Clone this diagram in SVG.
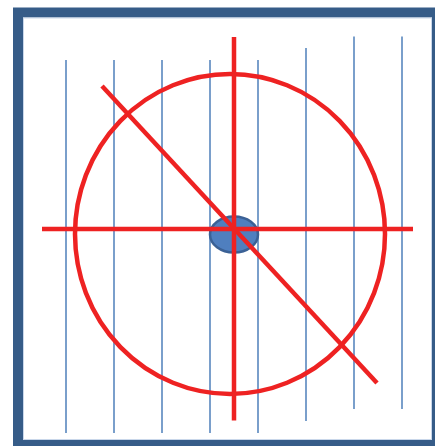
<svg xmlns="http://www.w3.org/2000/svg" width="435" height="446" viewBox="0 0 435 446">
  <style>
    .grid line { stroke: #7a9fcb; stroke-width: 2; }
    .red { stroke: #ee2222; stroke-width: 4.5; fill: none; }
  </style>
  <rect x="0" y="0" width="435" height="446" fill="#ffffff"/>
  <g id="frame">
    <rect x="18" y="12.5" width="419" height="432.5" fill="none" stroke="#365c88" stroke-width="10"/>
    <rect x="23.5" y="18" width="408" height="421.5" fill="none" stroke="#c9d7ea" stroke-width="1"/>
  </g>
  <g id="grid" class="grid">
    <line x1="66" y1="60" x2="66" y2="433"/>
    <line x1="114" y1="60" x2="114" y2="433"/>
    <line x1="162" y1="60" x2="162" y2="433"/>
    <line x1="210" y1="60" x2="210" y2="433"/>
    <line x1="258" y1="60" x2="258" y2="433"/>
    <line x1="306" y1="48" x2="306" y2="421"/>
    <line x1="354" y1="36.5" x2="354" y2="409"/>
    <line x1="402" y1="36.5" x2="402" y2="409"/>
  </g>
  <g id="hub">
    <ellipse cx="234" cy="234.5" rx="24" ry="18" fill="#4f7fbf" stroke="#3b6195" stroke-width="2.5"/>
  </g>
  <g id="connectors">
    <ellipse class="red" cx="230" cy="234" rx="155" ry="160"/>
    <line class="red" x1="42" y1="229" x2="413" y2="229"/>
    <line class="red" x1="234" y1="37" x2="234" y2="420.5"/>
    <line class="red" x1="102" y1="86" x2="377" y2="383"/>
  </g>
</svg>
